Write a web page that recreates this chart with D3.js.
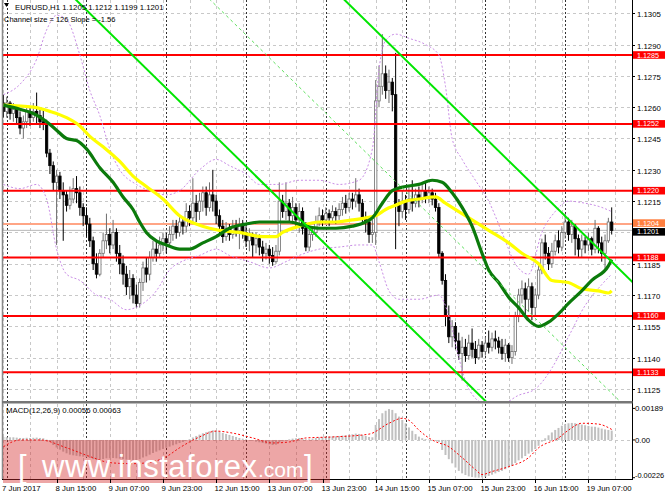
<!DOCTYPE html>
<html><head><meta charset="utf-8">
<script src="https://cdn.jsdelivr.net/npm/d3@7"></script>
<style>body{margin:0;background:#fff}svg{display:block}text{font-family:"Liberation Sans",Arial,sans-serif}</style>
</head><body><svg id="c" width="665" height="499"></svg>
<script>
const titleText = "EURUSD,H1  1.1205 1.1212 1.1199 1.1201";
const channelText = "Channel size = 126 Slope = -1.56";
const macdText = "MACD(12,26,9) 0.00056 0.00063";
const firstOpen = 1.1262;
const closes = [1.1258,1.1262,1.1257,1.1259,1.1255,1.1250,1.1253,1.1258,1.1255,1.1258,
1.1256,1.1253,1.1252,1.1238,1.1232,1.1224,1.1227,1.1220,1.1218,1.1213,
1.1216,1.1221,1.1219,1.1212,1.1208,1.1204,1.1196,1.1185,1.1180,1.1190,
1.1196,1.1199,1.1194,1.1200,1.1190,1.1185,1.1180,1.1174,1.1178,1.1170,
1.1166,1.1176,1.1183,1.1180,1.1188,1.1192,1.1190,1.1194,1.1197,1.1195,
1.1199,1.1203,1.1200,1.1205,1.1203,1.1210,1.1207,1.1214,1.1210,1.1215,
1.1219,1.1212,1.1218,1.1215,1.1208,1.1203,1.1198,1.1202,1.1199,1.1203,
1.1201,1.1204,1.1200,1.1196,1.1199,1.1194,1.1197,1.1193,1.1190,1.1192,
1.1189,1.1186,1.1191,1.1215,1.1210,1.1214,1.1208,1.1212,1.1206,1.1210,
1.1202,1.1193,1.1199,1.1200,1.1205,1.1208,1.1206,1.1209,1.1207,1.1210,
1.1208,1.1211,1.1214,1.1212,1.1216,1.1215,1.1218,1.1214,1.1207,1.1205,
1.1199,1.1200,1.1263,1.1270,1.1276,1.1268,1.1272,1.1266,1.1213,1.1210,
1.1215,1.1211,1.1216,1.1214,1.1218,1.1216,1.1220,1.1217,1.1219,1.1216,
1.1212,1.1190,1.1177,1.1160,1.1150,1.1155,1.1148,1.1142,1.1145,1.1141,
1.1147,1.1144,1.1140,1.1146,1.1143,1.1147,1.1145,1.1149,1.1148,1.1145,
1.1142,1.1146,1.1140,1.1143,1.1160,1.1170,1.1173,1.1168,1.1174,1.1164,
1.1170,1.1182,1.1195,1.1190,1.1185,1.1191,1.1196,1.1193,1.1200,1.1205,
1.1199,1.1203,1.1197,1.1192,1.1196,1.1194,1.1197,1.1192,1.1202,1.1195,
1.1190,1.1196,1.1205,1.1201];
const highs = [1.1266,1.1265,1.1263,1.1262,1.1261,1.1258,1.1256,1.1260,1.1260,1.1262,
1.1267,1.1260,1.1259,1.1254,1.1240,1.1234,1.1230,1.1229,1.1224,1.1220,
1.1222,1.1226,1.1227,1.1222,1.1214,1.1212,1.1207,1.1198,1.1190,1.1192,
1.1200,1.1209,1.1202,1.1206,1.1202,1.1194,1.1189,1.1184,1.1182,1.1180,
1.1175,1.1178,1.1186,1.1188,1.1191,1.1196,1.1196,1.1198,1.1200,1.1200,
1.1203,1.1206,1.1206,1.1208,1.1207,1.1214,1.1213,1.1226,1.1218,1.1219,
1.1222,1.1222,1.1224,1.1230,1.1218,1.1211,1.1206,1.1205,1.1204,1.1206,
1.1206,1.1207,1.1206,1.1203,1.1202,1.1200,1.1200,1.1199,1.1196,1.1195,
1.1194,1.1193,1.1194,1.1224,1.1218,1.1224,1.1216,1.1217,1.1214,1.1214,
1.1212,1.1205,1.1202,1.1203,1.1208,1.1212,1.1211,1.1212,1.1211,1.1213,
1.1212,1.1214,1.1217,1.1218,1.1219,1.1219,1.1226,1.1221,1.1216,1.1210,
1.1206,1.1206,1.1273,1.1280,1.1295,1.1280,1.1278,1.1274,1.1286,1.1216,
1.1220,1.1218,1.1222,1.1225,1.1221,1.1222,1.1224,1.1224,1.1222,1.1221,
1.1219,1.1214,1.1191,1.1180,1.1165,1.1158,1.1157,1.1152,1.1150,1.1149,
1.1151,1.1154,1.1148,1.1149,1.1148,1.1150,1.1153,1.1152,1.1153,1.1150,
1.1149,1.1149,1.1147,1.1146,1.1162,1.1173,1.1177,1.1176,1.1178,1.1176,
1.1173,1.1185,1.1197,1.1199,1.1193,1.1195,1.1199,1.1201,1.1203,1.1209,
1.1207,1.1206,1.1204,1.1199,1.1199,1.1198,1.1200,1.1198,1.1206,1.1203,
1.1198,1.1199,1.1207,1.1212];
const lows = [1.1255,1.1255,1.1254,1.1253,1.1252,1.1247,1.1245,1.1250,1.1251,1.1253,
1.1252,1.1250,1.1249,1.1236,1.1228,1.1220,1.1194,1.1216,1.1196,1.1210,
1.1211,1.1214,1.1214,1.1208,1.1203,1.1198,1.1193,1.1182,1.1178,1.1179,
1.1188,1.1192,1.1190,1.1192,1.1186,1.1180,1.1175,1.1170,1.1168,1.1166,
1.1164,1.1164,1.1172,1.1176,1.1177,1.1186,1.1186,1.1188,1.1191,1.1190,
1.1193,1.1196,1.1197,1.1198,1.1199,1.1200,1.1203,1.1205,1.1205,1.1206,
1.1210,1.1208,1.1210,1.1210,1.1204,1.1199,1.1195,1.1196,1.1196,1.1197,
1.1198,1.1192,1.1197,1.1193,1.1191,1.1188,1.1190,1.1189,1.1186,1.1187,
1.1185,1.1184,1.1185,1.1189,1.1207,1.1206,1.1205,1.1204,1.1203,1.1200,
1.1199,1.1191,1.1191,1.1196,1.1198,1.1203,1.1203,1.1204,1.1203,1.1205,
1.1204,1.1206,1.1208,1.1209,1.1210,1.1211,1.1212,1.1210,1.1204,1.1200,
1.1195,1.1195,1.1194,1.1260,1.1266,1.1264,1.1262,1.1258,1.1192,1.1203,
1.1207,1.1206,1.1209,1.1210,1.1212,1.1212,1.1214,1.1214,1.1214,1.1213,
1.1210,1.1188,1.1175,1.1155,1.1147,1.1145,1.1144,1.1139,1.1129,1.1138,
1.1139,1.1140,1.1137,1.1139,1.1140,1.1141,1.1142,1.1143,1.1144,1.1142,
1.1139,1.1138,1.1138,1.1137,1.1141,1.1157,1.1166,1.1160,1.1162,1.1158,
1.1160,1.1168,1.1180,1.1187,1.1182,1.1183,1.1189,1.1190,1.1191,1.1197,
1.1196,1.1195,1.1189,1.1188,1.1188,1.1190,1.1191,1.1189,1.1190,1.1190,
1.1186,1.1182,1.1195,1.1199];
const macdHist = [0.00018,0.00017,0.00016,0.00016,0.00014,0.00012,0.00012,0.00013,0.00012,0.00013,0.00014,0.00012,0.00010,
0.00002,
-0.00012,-0.00030,-0.00045,-0.00058,-0.00070,-0.00080,-0.00088,-0.00092,-0.00095,-0.00098,-0.00100,-0.00103,-0.00108,-0.00115,-0.00120,-0.00118,-0.00114,-0.00110,-0.00110,-0.00108,-0.00110,-0.00112,-0.00115,-0.00118,-0.00118,-0.00120,-0.00122,-0.00115,-0.00105,-0.00098,-0.00088,-0.00078,-0.00070,-0.00062,-0.00054,-0.00047,-0.00040,-0.00032,-0.00026,-0.00018,-0.00012,-0.00004,
0.00005,0.00015,0.00024,0.00032,0.00040,0.00046,0.00052,0.00058,0.00056,0.00050,0.00042,0.00036,0.00030,0.00024,0.00018,0.00012,0.00008,0.00004,0.00000,
-0.00005,-0.00010,-0.00014,-0.00018,-0.00022,-0.00026,-0.00030,-0.00028,
-0.00016,-0.00008,0.00000,0.00004,0.00008,0.00010,0.00012,0.00010,0.00004,0.00004,0.00008,0.00012,0.00016,0.00018,0.00020,0.00020,
0.00022,0.00022,0.00024,0.00026,0.00028,0.00032,0.00034,0.00038,0.00036,0.00030,0.00024,0.00018,0.00016,
0.00090,0.00125,0.00160,0.00175,0.00185,0.00180,0.00160,0.00140,0.00120,0.00100,0.00075,0.00055,0.00035,0.00020,0.00010,0.00005,0.00002,0.00000,-0.00002,
-0.00012,-0.00060,-0.00090,-0.00115,-0.00140,-0.00165,-0.00185,-0.00200,-0.00210,-0.00218,-0.00222,-0.00225,-0.00226,-0.00224,-0.00220,-0.00215,-0.00208,-0.00200,-0.00192,-0.00185,-0.00175,-0.00165,-0.00155,-0.00138,-0.00122,-0.00110,-0.00096,-0.00082,-0.00070,-0.00055,-0.00035,-0.00010,0.00010,0.00028,0.00045,0.00060,0.00072,0.00085,0.00095,0.00100,0.00102,0.00100,0.00096,0.00092,0.00088,0.00084,0.00080,0.00079,0.00074,0.00068,0.00063,0.00060,0.00056];
const macdSignal = [[0,-0.00041],[5,0.0],[11,0.0],[19,-0.00047],[27,-0.00106],[32,-0.00136],[39,-0.00142],[45,-0.00130],[49,-0.00100],[53,-0.00047],[59,0.00018],[64,0.00053],[69,0.00041],[75,0.00012],[81,-0.00018],[86,-0.00012],[91,0.00012],[99,0.00018],[110,0.00035],[116,0.00100],[120,0.00130],[122,0.00118],[125,0.00059],[128,0.00012],[131,-0.00018],[133,-0.00030],[138,-0.00106],[142,-0.00177],[144,-0.00207],[147,-0.00189],[152,-0.00160],[158,-0.00106],[161,-0.00047],[167,0.00012],[170,0.00059],[174,0.00100],[179,0.00095],[183,0.00063]];
const maYellow = [[0,1.1261],[9,1.1260],[14,1.1258],[19,1.1255],[23,1.1251],[26,1.1246],[30,1.1241],[35,1.1234],[39,1.1227],[43,1.1222],[48,1.1216],[53,1.1208],[58,1.1204],[62,1.1202],[65,1.1201],[71,1.1200],[78,1.1198],[82,1.1198],[84,1.1200],[89,1.1203],[95,1.1205],[100,1.1205],[105,1.1206],[109,1.1207],[112,1.1208],[115,1.1211],[118,1.1213],[121,1.1215],[125,1.1216],[130,1.1217],[133,1.1214],[137,1.1210],[141,1.1206],[146,1.1201],[152,1.1195],[156,1.1190],[161,1.1185],[165,1.1177],[170,1.1176],[174,1.1173],[179,1.1172],[182,1.1171],[183,1.1172]];
const maGreen = [[0,1.1261],[5,1.1259],[9,1.1257],[13,1.1253],[16,1.1249],[19,1.1245],[22,1.1244],[25,1.1240],[29,1.1231],[33,1.1224],[36,1.1217],[39,1.1211],[41,1.1205],[43,1.1200],[46,1.1196],[49,1.1194],[53,1.1192],[56,1.1192],[60,1.1195],[64,1.1198],[68,1.1202],[73,1.1204],[77,1.1205],[82,1.1205],[86,1.1205],[91,1.1203],[95,1.1202],[100,1.1202],[105,1.1203],[109,1.1205],[111,1.1207],[114,1.1214],[117,1.1220],[121,1.1222],[125,1.1223],[129,1.1225],[132,1.1224],[135,1.1219],[138,1.1212],[141,1.1203],[144,1.1190],[146,1.1182],[149,1.1176],[152,1.1169],[155,1.1164],[158,1.1158],[161,1.1155],[164,1.1157],[167,1.1161],[170,1.1166],[174,1.1172],[177,1.1177],[182,1.1184],[183,1.1187]];
const bandUpper = [[0,1.1266],[5,1.1271],[10,1.1283],[13,1.1297],[16,1.1304],[19,1.1302],[23,1.1285],[26,1.1268],[29,1.1256],[32,1.1240],[35,1.1230],[40,1.1223],[44,1.1220],[49,1.1218],[53,1.1220],[59,1.1230],[64,1.1235],[68,1.1232],[73,1.1228],[77,1.1223],[83,1.1223],[89,1.1225],[95,1.1225],[101,1.1223],[107,1.1225],[111,1.1240],[113,1.1278],[115,1.1292],[118,1.1295],[122,1.1293],[127,1.1290],[131,1.1285],[133,1.1270],[135,1.1245],[138,1.1235],[142,1.1225],[146,1.1215],[150,1.1200],[154,1.1185],[158,1.1180],[162,1.1200],[166,1.1210],[170,1.1215],[175,1.1214],[180,1.1212],[183,1.1210]];
const bandLower = [[0,1.1223],[5,1.1221],[10,1.1223],[13,1.1216],[16,1.1192],[19,1.1180],[23,1.1177],[28,1.1170],[32,1.1168],[37,1.1163],[41,1.1165],[46,1.1172],[50,1.1182],[55,1.1187],[59,1.1189],[64,1.1192],[68,1.1189],[74,1.1186],[80,1.1183],[85,1.1186],[89,1.1189],[95,1.1192],[101,1.1193],[107,1.1194],[111,1.1194],[113,1.1186],[116,1.1172],[119,1.1168],[125,1.1168],[131,1.1170],[134,1.1160],[137,1.1140],[140,1.1125],[145,1.1118],[150,1.1118],[155,1.1122],[160,1.1125],[165,1.1135],[170,1.1150],[175,1.1165],[180,1.1175],[183,1.1180]];
const levels = [1.1285,1.1252,1.1220,1.1188,1.1160,1.1133];
const askPrice = 1.1204, bidPrice = 1.1201;
const priceTicks = [1.1305,1.1290,1.1275,1.1260,1.1245,1.1230,1.1215,1.1200,1.1185,1.1170,1.1155,1.1140,1.1125];
const macdTicks = [0.00189,0,-0.00226];
const macdTickLabels = ["0.00189","0.00","-0.00226"];
const timeLabelIdx = [16,32,48,64,80,96,112,128,144,160,176];
const timeLabels = ["8 Jun 15:00","9 Jun 07:00","9 Jun 23:00","12 Jun 15:00","13 Jun 07:00","13 Jun 23:00","14 Jun 15:00","15 Jun 07:00","15 Jun 23:00","16 Jun 15:00","19 Jun 07:00"];
const firstLabel = "7 Jun 2017";
const daySepIdx = [1,25,49,73,97,121,145,169];
const channelUpperLast = 1.1186, channelSlope = -0.000156, channelSize = 0.0126;

const svg = d3.select("#c");
const N = closes.length;
const xL = 3, xR = 632, mainTop = 0, mainBot = 401, macdTop = 404, macdBot = 479;
const x = d3.scaleLinear().domain([0, N-1]).range([3.4, 3.4 + 3.324*(N-1)]);
const y = d3.scaleLinear().domain([1.1133, 1.1285]).range([372.3, 55]);
const ym = d3.scaleLinear().domain([-0.00226, 0.00189]).range([477.7, 408.4]);
const opens = closes.map((c,i)=> i===0 ? firstOpen : closes[i-1]);

svg.append("rect").attr("width",665).attr("height",499).attr("fill","#fff");
const defs = svg.append("defs");
defs.append("clipPath").attr("id","cm").append("rect").attr("x",xL).attr("y",mainTop).attr("width",xR-xL).attr("height",mainBot-mainTop);
defs.append("clipPath").attr("id","cd").append("rect").attr("x",xL).attr("y",macdTop).attr("width",xR-xL).attr("height",macdBot-macdTop);

const gm = svg.append("g").attr("clip-path","url(#cm)");
const gd = svg.append("g").attr("clip-path","url(#cd)");

// vertical grid and day separators
const gridIdx = d3.range(0, 200, 8);
[gm, gd].forEach((g,k)=>{
  const t = k===0?mainTop:macdTop, b = k===0?mainBot:macdBot;
  g.selectAll(".vg").data(gridIdx).enter().append("line")
    .attr("x1",d=>Math.round(x(d))+0.5).attr("x2",d=>Math.round(x(d))+0.5).attr("y1",t).attr("y2",b)
    .attr("stroke","#c8c8c8").attr("stroke-dasharray","3,3");
  g.selectAll(".ds").data(daySepIdx).enter().append("line")
    .attr("x1",d=>Math.round(x(d))+0.5).attr("x2",d=>Math.round(x(d))+0.5).attr("y1",t).attr("y2",b)
    .attr("stroke","#333").attr("stroke-dasharray","2,2");
});
gm.selectAll(".hg").data(priceTicks).enter().append("line")
  .attr("x1",xL).attr("x2",xR).attr("y1",d=>Math.round(y(d))+0.5).attr("y2",d=>Math.round(y(d))+0.5)
  .attr("stroke","#c8c8c8").attr("stroke-dasharray","3,3");
gm.append("line").attr("x1",xL).attr("x2",xR).attr("y1",y(askPrice)).attr("y2",y(askPrice)).attr("stroke","#ffa585").attr("stroke-width",2);
gm.append("line").attr("x1",xL).attr("x2",xR).attr("y1",y(bidPrice)).attr("y2",y(bidPrice)).attr("stroke","#b8b8b8").attr("stroke-width",1);

// candles
const cg = gm.append("g");
d3.range(N).forEach(i=>{
  const up = closes[i] >= opens[i];
  const cx = x(i);
  cg.append("line").attr("x1",cx).attr("x2",cx).attr("y1",y(highs[i])).attr("y2",y(lows[i]))
    .attr("stroke", up ? "#6e6e6e" : "#000").attr("stroke-width",1);
  const top = y(Math.max(opens[i],closes[i])), bot = y(Math.min(opens[i],closes[i]));
  cg.append("rect").attr("x",cx-1.2).attr("y",top).attr("width",2.4).attr("height",Math.max(0.8,bot-top))
    .attr("fill", up ? "#fff" : "#000").attr("stroke", up ? "#6e6e6e" : "#000").attr("stroke-width",0.8);
});

gm.selectAll(".lv").data(levels).enter().append("line")
  .attr("x1",xL).attr("x2",xR).attr("y1",d=>y(d)).attr("y2",d=>y(d)).attr("stroke","#ff0000").attr("stroke-width",2);

const lineP = d3.line().x(d=>x(d[0])).y(d=>y(d[1])).curve(d3.curveMonotoneX);
[bandUpper, bandLower].forEach(b=>{
  gm.append("path").attr("d",lineP(b)).attr("fill","none").attr("stroke","#c98de6").attr("stroke-width",1).attr("stroke-dasharray","2,2");
});
gm.append("path").attr("d",lineP(maYellow)).attr("fill","none").attr("stroke","#ffff00").attr("stroke-width",3.2);
gm.append("path").attr("d",lineP(maGreen)).attr("fill","none").attr("stroke","#0b7a0b").attr("stroke-width",3.2);

const chan = off => { const i0 = 0, i1 = 200;
  return [[i0, channelUpperLast + channelSlope*(i0-(N-1)) - off],[i1, channelUpperLast + channelSlope*(i1-(N-1)) - off]]; };
const lineS = d3.line().x(d=>x(d[0])).y(d=>y(d[1]));
gm.append("path").attr("d",lineS(chan(channelSize/2))).attr("stroke","#5ee05e").attr("stroke-width",1).attr("stroke-dasharray","3,3").attr("fill","none");
gm.append("path").attr("d",lineS(chan(0))).attr("stroke","#00e600").attr("stroke-width",2).attr("fill","none");
gm.append("path").attr("d",lineS(chan(channelSize))).attr("stroke","#00e600").attr("stroke-width",2).attr("fill","none");

// MACD
gd.append("line").attr("x1",xL).attr("x2",xR).attr("y1",Math.round(ym(0))+0.5).attr("y2",Math.round(ym(0))+0.5).attr("stroke","#c8c8c8").attr("stroke-dasharray","3,3");
gd.selectAll(".hb").data(macdHist).enter().append("rect")
  .attr("x",(d,i)=>x(i)-1).attr("width",2)
  .attr("y",d=>Math.min(ym(d),ym(0))).attr("height",d=>Math.max(0.5,Math.abs(ym(d)-ym(0))))
  .attr("fill","#c0c0c0");
const lineM = d3.line().x(d=>x(d[0])).y(d=>ym(d[1])).curve(d3.curveMonotoneX);
gd.append("path").attr("d",lineM(macdSignal)).attr("fill","none").attr("stroke","#ff0000").attr("stroke-width",1).attr("stroke-dasharray","2,2");

// frame
svg.append("line").attr("x1",2.5).attr("x2",2.5).attr("y1",0).attr("y2",macdBot).attr("stroke","#888").attr("stroke-width",1.5);
svg.append("line").attr("x1",xR+0.5).attr("x2",xR+0.5).attr("y1",0).attr("y2",macdBot).attr("stroke","#000");
svg.append("rect").attr("x",2).attr("y",401).attr("width",xR-1.5).attr("height",2.5).attr("fill","#777");
svg.append("line").attr("x1",2).attr("x2",xR+1).attr("y1",macdBot+0.5).attr("y2",macdBot+0.5).attr("stroke","#000");

const fs = "7.8px", tfs = "7.2px";
// tags (level labels), positioned like the terminal: ask above bid
const tags = levels.map(p=>({p, fill:"#ff0000", yy:y(p)}))
  .concat([{p:askPrice, fill:"#ff7f3f", yy:y(askPrice)-1}, {p:bidPrice, fill:"#000", yy:y(bidPrice)+1.5}]);
const ax = svg.append("g");
priceTicks.forEach(p=>{
  const yy = Math.round(y(p))+0.5;
  ax.append("line").attr("x1",xR).attr("x2",xR+3).attr("y1",yy).attr("y2",yy).attr("stroke","#000");
  if (tags.some(t=>Math.abs(t.yy-yy)<5)) return; // hidden behind a tag
  ax.append("text").attr("x",637).attr("y",yy+1).attr("dy","0.35em").attr("font-size",fs).attr("fill","#000").text(p.toFixed(4));
});
tags.forEach(t=>{
  ax.append("rect").attr("x",xR+1).attr("y",t.yy-3.8).attr("width",32).attr("height",7.6).attr("fill",t.fill);
  ax.append("text").attr("x",637).attr("y",t.yy).attr("dy","0.35em").attr("font-size",tfs).attr("fill","#fff").text(t.p.toFixed(4));
});
macdTicks.forEach((v,k)=>{
  const yy = ym(v);
  ax.append("line").attr("x1",xR).attr("x2",xR+3).attr("y1",yy).attr("y2",yy).attr("stroke","#000");
  ax.append("text").attr("x",635).attr("y",k===2?yy-2:yy).attr("dy","0.35em").attr("font-size",k===2?"7.4px":fs).text(macdTickLabels[k]);
});

// watermark
const wm = svg.append("g").style("font-family","Lato,'Open Sans',sans-serif");
wm.append("rect").attr("x",3).attr("y",440).attr("width",327).attr("height",43).attr("fill","#d42a2a").attr("opacity",0.42);
wm.append("text").attr("x",18).attr("y",477).attr("font-size","31px").attr("fill","#fff").attr("font-weight","300").text("[");
wm.append("text").attr("x",42).attr("y",477).attr("font-size","31px").attr("fill","#fff").attr("font-weight","300").attr("textLength",215).text("www.instaforex");
wm.append("text").attr("x",258).attr("y",477).attr("font-size","21px").attr("fill","#fff").attr("font-weight","300").text(".com");
wm.append("text").attr("x",304).attr("y",477).attr("font-size","31px").attr("fill","#fff").attr("font-weight","300").text("]");

// time axis
const tx = svg.append("g");
tx.append("text").attr("x",2).attr("y",491).attr("font-size",fs).text(firstLabel);
timeLabelIdx.forEach((d,k)=>{
  const xx = Math.round(x(d))+0.5;
  tx.append("line").attr("x1",xx).attr("x2",xx).attr("y1",macdBot).attr("y2",macdBot+4).attr("stroke","#000");
  tx.append("text").attr("x",xx-2).attr("y",491).attr("font-size",fs).text(timeLabels[k]);
});

// headers
svg.append("path").attr("d","M4,3 L9,3 L6.5,7 Z").attr("fill","#000");
svg.append("text").attr("x",15).attr("y",10).attr("font-size",fs).text(titleText);
svg.append("text").attr("x",4).attr("y",22).attr("font-size","7.5px").text(channelText);
svg.append("text").attr("x",6).attr("y",413).attr("font-size",fs).text(macdText);
</script></body></html>
